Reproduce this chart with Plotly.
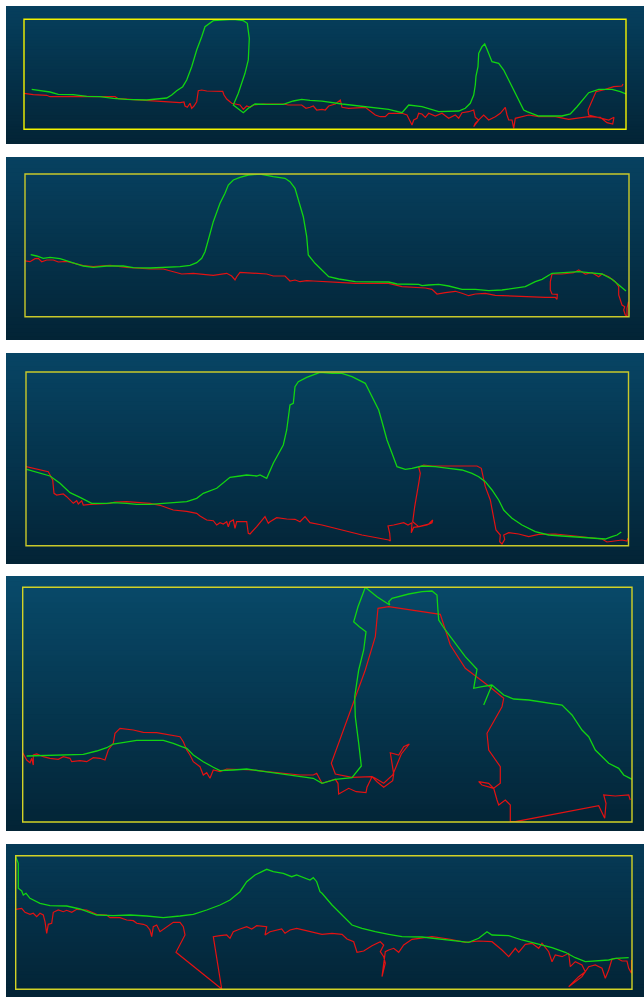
import plotly.graph_objects as go

# ---------------- data: profile readings (distance, depth) per panel ----------------
P1_GREEN = [(31.7,89.3),(43.3,90.7),(50,92),(58.3,94.3),(73.3,94.7),(86.7,96.3),(100,96.7),(113.3,98.3),
            (126.7,99.3),(146.7,100),(156.7,99.3),(166.7,98),(171.7,95),(176.7,90.7),(182.7,86.7),(186.7,80),
            (191.7,66.7),(196.7,50),(201.7,36.7),(205,26.7),(213.3,20.7),(233.3,19.3),(243.3,20.7),(247.3,23.3),
            (249.3,38.3),(248.3,60),(245,73.3),(238.3,93.3),(233.3,105),(243.3,112.7),(248.3,108.3),(255,104),
            (266.7,104.3),(283.3,104.3),(293.3,101),(301.7,99.3),(310,100.3),(322,101.2),
            (342,104),(365.3,106.7),(388.7,109.3),(402,112.7),(408.7,105),(422,106.7),(438.7,111.7),(458.7,111),
            (465.3,108.3),(470.3,103.3),(473.7,95),(475.3,85),(476,76),(478,66.7),(478.7,53.3),(482,46.7),
            (484.7,44),(487,49.3),(492,61.7),(498.7,63.3),(503.7,70),(508.7,80),(513.7,90),(518.7,100),
            (523.7,110),(527,111.7),(538.7,116),(562,116),(570.3,114),(577,106.7),(583.7,98.3),(588.7,92.7),
            (598.7,89.3),(612,89.3),(620.3,91.7),(626,94)]
P1_RED = [(24,93.3),(33.3,94.7),(46.7,95.3),(50,96.7),(66.7,96.7),(83.3,96.3),(100,96.7),(115,96.7),
          (118.3,98.7),(126.7,99.3),(136.7,100),(146.7,100.3),(156.7,101),(168.3,102),(180,102.7),(184,102),
          (185,106),(187.3,107.3),(190,103.3),(191.7,108.3),(194,106),(196.7,101.7),(198.3,90.7),(201.7,90),
          (206.7,91),(222.7,91.3),(224,95),(226.7,99),(231.7,103.3),(240,105),(243.3,109.3),(246.7,106),
          (250,107.3),(253.3,105),(263.3,104),(283.3,104),(288.3,105),(301.7,105),(306,108.3),(310,107.3),
          (313.3,106),(316.7,110),(322,109.3),
          (325.3,110),(328.7,106),(335.3,104),(340.3,100),(342,107.3),(348.7,108.3),(365.3,107.3),(375.3,115),
          (380.3,116.7),(385.3,116.7),(388.7,113.3),(402,113.3),(407,115),(412,125),(413.7,120),(417,118.3),
          (418.7,113.3),(422,114),(425.3,117.3),(428.7,113.3),(435.3,116),(442,113.3),(448.7,118.3),(455.3,115),
          (458.7,118.3),(462,112.7),(468.7,111.7),(473.7,110),(475.3,117.3),(478.7,120),(473.7,126.7),(475.3,123.3),
          (480.3,118.3),(483.7,115),(488.7,120),(495.3,116.7),(500.3,113.3),(505.3,107.3),(507,115),(508.7,120),
          (512,120),(513.7,128.3),(515.3,118.3),(522,116.7),(528.7,115),(538.7,116.7),(555.3,116.7),(568.7,119.3),
          (578.7,118.3),(588.7,116.7),(600.3,117.3),(607,122.7),(612.7,124),(614,117.3),(608.7,120),(598.7,117.3),
          (588.7,115),(588,110),(592,100),(596,91.7),(605.3,89.3),(613.7,86.7),(622,86),(623,84)]

P2_GREEN = [(30.7,254.7),(36.7,256),(43.3,258.3),(50,257.3),(60,258.7),(70,261.7),(83.3,266),(93.3,267.3),
            (106.7,266),(123.3,266),(133.3,267.7),(150,268),(166.7,267.3),(180,266.7),(190,265.3),(196.7,262.7),
            (201.7,258.3),(205,251.7),(208.3,240),(213.3,221.7),(220,203.3),(225,193.3),(228.3,185),(233.3,180),
            (240,177.3),(248.3,175),(260,174),(273.3,176.7),(285,178.3),(290,181.7),(295,188.3),(300,206.7),
            (303.3,216.7),(306.7,236.7),(308.3,255),(315,263.3),(322,270),
            (328.7,276.7),(338.7,279),(348.7,280.7),(355.3,281.7),(388.7,282),(397,284),(418.7,284.3),(422,285.7),
            (428.7,285),(438.7,284.3),(448.7,286),(462,289.3),(475.3,289.3),(488.7,290.7),(502,290),(515.3,288.3),
            (525.3,286.7),(535.3,281.7),(542,279.3),(552,273.3),(568.7,272.3),(578.7,271.7),(588.7,272.7),(602,274),
            (612,279.3),(618.7,285),(626,291)]
P2_RED = [(24,260.7),(30,261.7),(35,258.7),(38.3,258.3),(41.7,261.7),(46.7,260),(53.3,260),(58.3,262),
          (66.7,261.3),(73.3,263.3),(83.3,265.7),(93.3,266.7),(110,265.3),(126.7,267.3),(140,268.7),(150,269),
          (163.3,269),(170,270.7),(176.7,272),(181.7,274),(193.3,273.3),(206.7,274.3),(213.3,275.3),(226.7,273.3),
          (231.7,276),(235,280),(236.7,276.7),(240,272.3),(253.3,273.3),(266.7,274),(273.3,276),(285,276),
          (290,281),(295,280),(300,281.7),(306.7,280.7),(313.3,281),(322,281.7),
          (338.7,282.3),(355.3,283.3),(388.7,283.3),(402,286.7),(418.7,287.3),(425.3,288),(432,289.3),(437,294),
          (445.3,292.7),(455.3,291.3),(462,293.3),(468.7,295.7),(475.3,294),(485.3,293.3),(495.3,295.3),(508.7,296),
          (522,296.7),(535.3,297.3),(545.3,297.3),(555.3,297.3),(557,299.3),(557.3,294.3),(552,294),(550.3,290),
          (550.3,281.7),(552,274),(562,274),(573.7,272.7),(578.7,270),(585.3,274),(592,272.7),(598.7,276.7),
          (602,274),(608.7,276.7),(615.3,281.7),(618.7,286.7),(618.7,295),(622,305),(624.7,306.7),(623.7,310),
          (625.3,315),(627,316),(627,308.3),(628.5,301.7)]

P3_GREEN = [(26.7,469.3),(36.7,472),(50,476),(60,483.3),(70,492.7),(80,497.3),(91.7,503.3),(106.7,503.3),
            (113.3,502.7),(126.7,503.3),(136.7,504.3),(150,504.3),(166.7,503.3),(180,502.7),(186.7,501.7),(196.7,498.3),
            (203.3,493.3),(216.7,488.3),(223.3,483.3),(230,477.3),(240,476),(246.7,475),(256.7,476),(260,475),
            (266.7,478.3),(273.3,463.3),(283.3,445),(286.7,430),(290,405),(293.3,403.3),(295,386.7),(298.3,381.7),
            (306.7,377.3),(313.3,375),(320,372.3),
            (332,373.3),(342,373.3),(352,376.7),(365.3,383.3),(368.7,390),(373.7,400),(378.7,410),(382,421.7),
            (387,440),(392,453.3),(397,466.7),(405.3,469.3),(412,468.3),(422,466),(435.3,466.7),(448.7,468.3),
            (462,470),(472,473.3),(478.7,476.7),(485.3,481.7),(492,490),(498.7,500),(503.7,510),(512,518.3),
            (522,525),(535.3,531.7),(548.7,535),(562,536),(582,537.3),(595.3,538.3),(605.3,539),(612,536.7),
            (617,535),(621.3,532)]
P3_RED = [(26,466.7),(33.3,468.3),(46.7,470.7),(48.3,471.7),(52.7,480),(54,493.3),(56.7,495),(63.3,494),
          (66.7,496.7),(70,500),(73.3,503.3),(76.7,500.7),(78.3,504),(81.7,500.7),(83.3,505),(90,504.3),
          (100,504),(110,503.3),(115,502),(126.7,501.7),(140,502.7),(150,503.3),(160,505.3),(166.7,507.3),
          (173.3,510),(186.7,511.3),(196.7,513.3),(200,516),(206.7,520),(213.3,520.7),(216.7,525),(220,522.7),
          (223.3,524),(226.7,521.7),(228.3,526.7),(230,521.7),(233.3,520),(235,528.3),(236.7,521.7),(243.3,521.7),
          (246.7,521.7),(248.3,533.3),(250,534),(256.7,526.7),(261.7,520),(265,516.7),(268.3,523.3),(270,521.7),
          (276.7,517.7),(286.7,519),(295,519.3),(300,521.7),(305,516.7),(310,522.7),(322,525),
          (342,530),(362,535),(388.7,540),(390.3,541),(389.7,533.3),(388,526),(393.7,525),(400.3,523.3),
          (403.7,522.7),(408,525),(412,522.7),(411.3,532.7),(413.7,527.3),(419.3,526.7),(427,525),(432,522.7),
          (432.7,520),(428.7,524),(418.7,526.7),(412.7,521.7),(414.7,506.7),(418.7,483.3),(420.3,473.3),(418.7,467.3),
          (423.7,465),(432,466),(448.7,466),(468.7,466.7),(477,466),(481.3,468.3),(485.3,486.7),(490.3,500),
          (493.7,516.7),(496,530),(500.3,535),(499.7,541.7),(502,544),(504.7,539.3),(503.7,535),(508.7,532.7),
          (518.7,534),(528.7,536.7),(538.7,534.3),(555.3,534),(575.3,536),(588.7,537.3),(602,539),(607,542),
          (615.3,540.7),(622,540),(627,541),(628,538.3)]

P4_GREEN = [(26.7,756),(53.3,755.3),(83.3,754.3),(96.7,751),(106.7,747.7),(113.3,744),(126.7,741.7),(136.7,740.3),
            (163.3,740.3),(173.3,743.3),(181.7,746.7),(186.7,748.3),(193.3,755),(203.3,761.7),(213.3,767.3),(220,770.7),
            (233.3,770),(246.7,769),(263.3,771.3),(283.3,774),(300,776),(313.3,778.3),(322,783.3),
            (335.3,779.3),(352,777.7),(355.3,773.3),(361.3,766),(358.7,743.3),(355.3,716.7),(354.7,696.7),(358.7,670),
            (363.7,650),(366,631.7),(359.3,626.7),(353.7,621.7),(358,606.7),(365.3,587.3),(377,596.7),(389.7,605),
            (388.7,601.7),(392,598.3),(408.7,594),(422,591.7),(432,591),(437,595),(437.7,606.7),(438.7,620),
            (445.3,630),(455.3,643.3),(465.3,656.7),(477,669.3),(475.3,678.3),(473.7,688.3),(482,686.7),(492,685),
            (483.7,705),(492,685),(503.7,695),(513.7,699),(528.7,700),(548.7,702.7),(562,705),(572,715),
            (582,730),(588.7,736.7),(595.3,750),(608.7,763.3),(618.7,768.3),(623.7,775),(632,779.3)]
P4_RED = [(22.7,752.7),(26.7,760),(30,762.7),(31.7,758.3),(33.3,765),(33.3,755),(36.7,754),(43.3,756.7),
          (50,758.3),(58.3,759.3),(63.3,756.7),(70,758.3),(71.7,761.7),(80,760.7),(86.7,761.7),(93.3,757.7),
          (100,758.3),(105,760),(108.3,750),(113.3,743.3),(115,733.3),(120,728.3),(133.3,730),(143.3,732.3),
          (156.7,732.7),(166.7,734.3),(173.3,735.7),(180,736.7),(183.3,741.7),(186.7,750),(190,755),(193.3,761.7),
          (200,766.7),(203.3,775),(206.7,772.7),(210,778.3),(213.3,770),(220,771.7),(226.7,769),(240,769.3),
          (253.3,770),(266.7,771.7),(283.3,773.3),(300,775),(313.3,775),(316.7,773.3),(322,783.3),
          (335.3,779.3),(338,783.3),(338.7,794),(348.7,788.3),(356.3,791.7),(366,792.7),(367,787.3),(372,776.7),
          (377,781.7),(383.7,787.3),(392.7,780.7),(393.7,774),(390.3,752.7),(398.7,755),(403.7,746.7),(409.3,744),
          (401.3,754),(392.7,775),(383.7,783.3),(375.3,778.3),(372,776.7),(352,777.3),(335.3,774),(331.3,763.3),
          (343.7,730),(355.3,696.7),(365.3,670),(375.3,636.7),(378,608.3),(388.7,606.7),(398.7,608.3),(422,611.7),
          (440.3,614.3),(450.3,645),(465.3,668.3),(488.7,686),(503.7,698.3),(502,706.7),(487,733.3),(488.7,750),
          (495.3,760),(500.3,766.7),(500.3,783.3),(493.7,788.3),(488.7,783.3),(478.7,781.7),(482,785),(493.7,788.3),
          (497,800),(498.7,805),(505.3,800),(510.3,805),(510.3,821.7),(515.3,821.7),(598.7,805.7),(604.7,818.3),
          (606,803.3),(603.7,795),(615.3,796),(628.7,795),(630.3,800)]

P5_GREEN = [(15.7,856.7),(18.3,863.3),(18.3,888.3),(21.7,891),(23.3,895),(26,893.3),(30,898.3),(40,903.3),
            (50,905.7),(66.7,906),(80,909),(96.7,915),(113.3,915.7),(130,915),(146.7,916),(163.3,917.7),
            (180,916),(193.3,914.3),(206.7,910),(220,905),(230,900),(240,891.7),(246.7,881.7),(255,875),
            (266.7,869.3),(273.3,871.7),(283.3,873.3),(291.7,876.7),(296.7,875),(305,877.7),(310,880),(313.3,877.7),
            (316.7,881.7),(320,891.7),(322,893.3),
            (332,905),(342,915),(352,925),(362,928.3),(375.3,931.7),(388.7,934.3),(402,936.7),(422,937),
            (442,939),(455.3,940.3),(468.7,942.3),(478.7,938.3),(487,931.7),(492,935),(508.7,935.7),(522,940),
            (535.3,943.3),(552,947.7),(565.3,952.3),(575.3,957.7),(585.3,961.7),(595.3,961),(608.7,960),(615.3,958.3),
            (628.7,957.7)]
P5_RED = [(15.7,909.3),(21.7,908.3),(25,912.3),(30,914.3),(33.3,913.3),(36.7,916.7),(40,913.3),(43.3,915),
          (45,921.7),(46.7,933.3),(48.3,924.3),(51.7,923.3),(53.3,912.3),(58.3,910),(63.3,911.7),(66.7,910.3),
          (71.7,912.3),(76.7,909.3),(86.7,910),(96.7,914.3),(106.7,915),(110,917.7),(120,917.7),(126.7,920),
          (133.3,920.7),(136.7,923.3),(143.3,924.3),(146.7,925.7),(150,930),(151.7,936.7),(153.3,926.7),(156.7,925),
          (160,931.7),(166.7,926.7),(173.3,922.3),(180,922.3),(183.3,926.7),(185,935),(176,952.3),(221.7,989),
          (213.3,936.7),(220,935.7),(226.7,935),(230,938.3),(233.3,931.7),(240,929),(246.7,926.7),(251.7,929),
          (256.7,925.7),(266.7,926.7),(265,935),(270,931.7),(276.7,930),(281.7,929),(285,933.3),(290,930),
          (296.7,928.3),(303.3,930),(310,931.7),(322,934.3),
          (332,933.3),(342,934.3),(347,939),(353.7,941.7),(357,952.3),(363.7,951),(372,945.7),(380.3,941.7),
          (383.7,945),(380.3,951.7),(383.7,956.7),(385.3,963.3),(382,976.7),(385.3,951.7),(388.7,950),(393.7,948.3),
          (398.7,952.3),(403.7,945),(412,939.3),(418.7,938.3),(432,936.7),(448.7,939),(465.3,942.3),(478.7,941),
          (492,941.7),(502,950),(508.7,956.7),(515.3,948.3),(518.7,952.3),(525.3,944.3),(532,943.3),(538.7,948.3),
          (542,943.3),(548.7,951.7),(552,961.7),(555.3,955),(562,956.7),(568.7,953.3),(570.3,966.7),(575.3,961.7),
          (582,965),(585.3,971.7),(578.7,976.7),(568.7,986.7),(582,976.7),(588.7,966.7),(595.3,965),(602,968.3),
          (605.3,978.3),(608.7,970),(612,959),(617,958.3),(622,961),(627,961),(628.7,968.3),(631.5,973.3),(631.5,960)]

GREEN_SERIES = [P1_GREEN, P2_GREEN, P3_GREEN, P4_GREEN, P5_GREEN]
RED_SERIES = [P1_RED, P2_RED, P3_RED, P4_RED, P5_RED]

# ---------------- layout (page pixels) ----------------
W, H = 644, 997
# frame of each profile: left, right, top, bottom
FRAMES = [(24, 626, 19.3, 129.3), (25, 629, 174, 316.7), (26, 628.5, 372, 545.7),
          (22.7, 632, 587.3, 822), (15.7, 632, 855.7, 989.3)]
# background block of each panel: top, bottom (x from 6 to 644)
BACKS = [(6, 144), (157, 340), (353, 564), (576, 831), (844, 997)]
FRAME_COLORS = ["#f2f200", "#c9c92a", "#c9c92a", "#d2d226", "#d2d226"]

TOP_RGBS = [(6, 63, 93), (7, 65, 96), (7, 68, 100), (8, 74, 106), (6, 58, 86)]
BOT_RGB = (3, 36, 54)

fig = go.Figure()
shapes = []
NSTRIPE = 48
for (bt, bb), top_rgb in zip(BACKS, TOP_RGBS):
    for s in range(NSTRIPE):
        f = s / (NSTRIPE - 1)
        c = tuple(round(top_rgb[k] + (BOT_RGB[k] - top_rgb[k]) * f) for k in range(3))
        y0 = bt + (bb - bt) * s / NSTRIPE
        # each band runs to the panel bottom; later bands cover earlier ones (no seams)
        shapes.append(dict(type="rect", xref="paper", yref="paper", layer="below",
                           x0=6 / W, x1=1, y0=1 - bb / H, y1=1 - y0 / H,
                           fillcolor="rgb(%d,%d,%d)" % c, line=dict(width=0)))

layout_axes = {}
for i, (l, r, t, b) in enumerate(FRAMES):
    k = i + 1
    xa = "xaxis" if k == 1 else f"xaxis{k}"
    ya = "yaxis" if k == 1 else f"yaxis{k}"
    xs = "x" if k == 1 else f"x{k}"
    ys = "y" if k == 1 else f"y{k}"
    layout_axes[xa] = dict(domain=[l / W, r / W], range=[l, r], visible=False, anchor=ys, fixedrange=True)
    layout_axes[ya] = dict(domain=[1 - b / H, 1 - t / H], range=[b, t], visible=False, anchor=xs, fixedrange=True)
    red = RED_SERIES[i]
    green = GREEN_SERIES[i]
    fig.add_trace(go.Scatter(x=[p[0] for p in red], y=[p[1] for p in red], mode="lines",
                             line=dict(color="#e31212", width=1.2), xaxis=xs, yaxis=ys,
                             hoverinfo="skip", showlegend=False))
    fig.add_trace(go.Scatter(x=[p[0] for p in green], y=[p[1] for p in green], mode="lines",
                             line=dict(color="#12d412", width=1.3), xaxis=xs, yaxis=ys,
                             hoverinfo="skip", showlegend=False))
    shapes.append(dict(type="rect", xref=f"{xs} domain", yref=f"{ys} domain", x0=0, x1=1, y0=0, y1=1,
                       line=dict(color=FRAME_COLORS[i], width=1.4), layer="above"))

fig.update_layout(width=W, height=H, margin=dict(l=0, r=0, t=0, b=0),
                  paper_bgcolor="white", plot_bgcolor="rgba(0,0,0,0)",
                  shapes=shapes, showlegend=False, **layout_axes)
fig.write_html("out.html", config={"displayModeBar": False},
               post_script="document.body.style.margin='0';document.body.style.overflow='hidden';")
